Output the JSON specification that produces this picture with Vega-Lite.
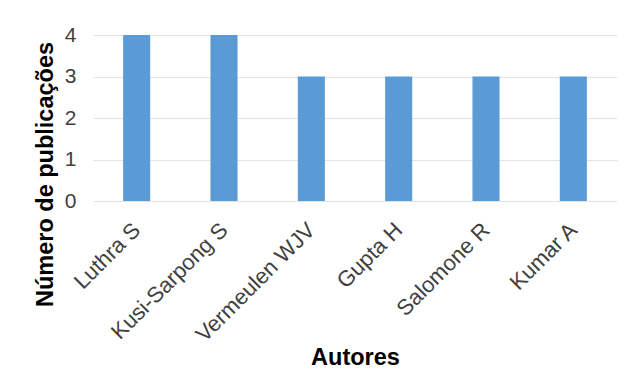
{
  "$schema": "https://vega.github.io/schema/vega-lite/v6.json",
  "width": 524,
  "height": 166,
  "autosize": "none",
  "padding": {"left": 93, "top": 35, "right": 10, "bottom": 184},
  "background": "white",
  "config": {
    "view": {"stroke": null},
    "font": "Liberation Sans"
  },
  "data": {
    "values": [
      {"autor": "Luthra S", "n": 4},
      {"autor": "Kusi-Sarpong S", "n": 4},
      {"autor": "Vermeulen WJV", "n": 3},
      {"autor": "Gupta H", "n": 3},
      {"autor": "Salomone R", "n": 3},
      {"autor": "Kumar A", "n": 3}
    ]
  },
  "mark": {"type": "bar", "color": "#5b9bd5"},
  "encoding": {
    "x": {
      "field": "autor",
      "type": "nominal",
      "sort": null,
      "scale": {"paddingInner": 0.69, "paddingOuter": 0.345},
      "axis": {
        "title": "Autores",
        "labelAngle": -45,
        "labelFontSize": 22,
        "labelColor": "#404040",
        "labelPadding": 18,
        "labelOffset": -7,
        "labelBaseline": "top",
        "labelAlign": "right",
        "domain": false,
        "ticks": false,
        "titleFontSize": 23.5,
        "titleFontWeight": "bold",
        "titleColor": "#000000",
        "titleY": 156,
        "titleBaseline": "middle"
      }
    },
    "y": {
      "field": "n",
      "type": "quantitative",
      "scale": {"domain": [0, 4]},
      "axis": {
        "title": "Número de publicações",
        "values": [0, 1, 2, 3, 4],
        "labelFontSize": 21,
        "labelColor": "#404040",
        "labelPadding": 17,
        "domain": false,
        "ticks": false,
        "gridColor": "#e3e3e3",
        "titleFontSize": 23.5,
        "titleFontWeight": "bold",
        "titleColor": "#000000",
        "titleX": -48,
        "titleY": 139,
        "titleAlign": "center",
        "titleBaseline": "middle",
        "titleAngle": -90
      }
    }
  }
}
